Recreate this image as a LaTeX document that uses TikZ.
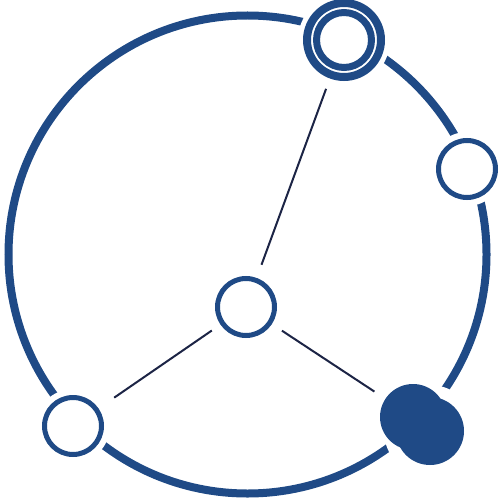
\documentclass[tikz,border=0pt]{standalone}
\definecolor{ringblue}{HTML}{1F4A86}
\definecolor{linknavy}{HTML}{1C2445}
\begin{document}
\begin{tikzpicture}[x=1pt,y=-1pt,
  hub/.style={circle,draw=ringblue,line width=5pt,fill=white,minimum size=57pt,inner sep=0pt},
  halo/.style={fill=white},
  blob/.style={circle,fill=ringblue,inner sep=0pt},
  link/.style={draw=linknavy,line width=2pt}]
\useasboundingbox (0,0) rectangle (500,500);
% outer ring
\draw[ringblue,line width=8pt] (247.5,254.5) circle (239);
% white gaps in the ring
\fill[halo] (344,40) circle (46);
\fill[halo] (467,169) circle (37);
\fill[halo] (73,426) circle (37);
\fill[halo] (430,431) circle (46);
% nodes
\node[circle,draw=ringblue,line width=8pt,fill=white,minimum size=74pt,inner sep=0pt] (top) at (344,40) {};
\draw[ringblue,line width=7pt] (top.center) circle (27.5);
\node[hub] (right) at (467,169) {};
\node[hub] (center) at (246,307) {};
\node[hub] (bl) at (73,426) {};
\node[blob,minimum size=68pt] (blobB) at (430,431) {};
\node[blob,minimum size=66pt] (blobA) at (413,417) {};
% links
\draw[link,shorten <=14pt,shorten >=11pt] (center) -- (top);
\draw[link,shorten <=10.5pt,shorten >=19pt] (center) -- (bl);
\draw[link,shorten <=12pt,shorten >=13pt] (center) -- (blobA);
\end{tikzpicture}
\end{document}
